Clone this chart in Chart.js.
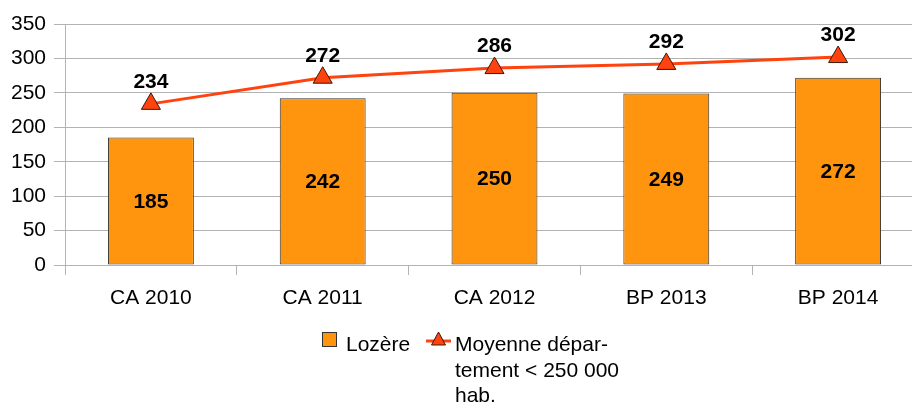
<!DOCTYPE html>
<html>
<head>
<meta charset="utf-8">
<script src="https://cdn.jsdelivr.net/npm/chart.js@4/dist/chart.umd.min.js"></script>
<style>
html,body{margin:0;padding:0;background:#fff;overflow:hidden;}
#wrap{position:relative;width:936px;height:408px;}
</style>
</head>
<body>
<div id="wrap"><canvas id="c" width="936" height="408"></canvas></div>
<script>
const categories = ["CA 2010", "CA 2011", "CA 2012", "BP 2013", "BP 2014"];
const lozere = [185, 242, 250, 249, 272];
const moyenne = [234, 272, 286, 292, 302];
const yTicks = [0, 50, 100, 150, 200, 250, 300, 350];
const legendBar = ["Lozère"];
const legendLine = ["Moyenne dépar-", "tement < 250 000", "hab."];

const FONT = "'Liberation Sans', Arial, sans-serif";
const BAR = "#ff950e";
const LINE = "#ff420e";

const labelsPlugin = {
  id: 'labels',
  afterDatasetsDraw(chart) {
    const ctx = chart.ctx;
    ctx.save();
    ctx.font = "bold 21px " + FONT;
    ctx.fillStyle = "#000";
    ctx.textAlign = "center";
    ctx.textBaseline = "middle";
    const barMeta = chart.getDatasetMeta(1);
    barMeta.data.forEach((el, i) => {
      ctx.fillText(String(lozere[i]), el.x, (el.y + el.base) / 2 + 1);
    });
    const lineMeta = chart.getDatasetMeta(0);
    lineMeta.data.forEach((el, i) => {
      ctx.fillText(String(moyenne[i]), el.x, el.y - 22);
    });
    // legend
    ctx.font = "21px " + FONT;
    ctx.textAlign = "left";
    ctx.textBaseline = "alphabetic";
    ctx.fillStyle = BAR;
    ctx.strokeStyle = "#333";
    ctx.lineWidth = 1;
    ctx.fillRect(322.5, 332.5, 14, 14);
    ctx.strokeRect(322.5, 332.5, 14, 14);
    ctx.fillStyle = "#000";
    ctx.fillText(legendBar[0], 346, 351);
    ctx.strokeStyle = LINE;
    ctx.lineWidth = 3;
    ctx.beginPath();
    ctx.moveTo(426, 341);
    ctx.lineTo(451, 341);
    ctx.stroke();
    ctx.fillStyle = LINE;
    ctx.strokeStyle = "#3a1a0a";
    ctx.lineWidth = 1;
    ctx.beginPath();
    ctx.moveTo(438.5, 332);
    ctx.lineTo(445.5, 345);
    ctx.lineTo(431.5, 345);
    ctx.closePath();
    ctx.fill();
    ctx.stroke();
    ctx.fillStyle = "#000";
    legendLine.forEach((t, i) => ctx.fillText(t, 455, 351 + i * 25.5));
    ctx.restore();
  }
};

new Chart(document.getElementById('c'), {
  data: {
    labels: categories,
    datasets: [
      {
        type: 'line',
        label: 'Moyenne département < 250 000 hab.',
        data: moyenne,
        borderColor: LINE,
        backgroundColor: LINE,
        borderWidth: 3,
        pointStyle: 'triangle',
        pointRadius: 11,
        pointHoverRadius: 11,
        pointBackgroundColor: LINE,
        pointBorderColor: "#3a1a0a",
        pointBorderWidth: 1,
        tension: 0,
        order: 0
      },
      {
        type: 'bar',
        label: 'Lozère',
        data: lozere,
        backgroundColor: BAR,
        borderColor: "#333",
        borderWidth: 1,
        borderSkipped: false,
        categoryPercentage: 1.0,
        barPercentage: 0.5,
        order: 1
      }
    ]
  },
  options: {
    responsive: false,
    animation: false,
    devicePixelRatio: 1,
    layout: { padding: { top: 24, right: 2, left: 0, bottom: 0 } },
    plugins: { legend: { display: false }, tooltip: { enabled: false } },
    scales: {
      x: {
        grid: { display: true, offset: true, drawOnChartArea: false, color: "#b3b3b3", tickLength: 10 },
        border: { display: false },
        ticks: { color: "#000", font: { size: 21, family: FONT }, padding: 11, maxRotation: 0 },
        afterFit(s) { s.height = 143; }
      },
      y: {
        min: 0, max: 350,
        afterBuildTicks(s) { s.ticks = yTicks.map(v => ({ value: v })); },
        grid: { color: "#b3b3b3", tickLength: 11 },
        border: { color: "#b3b3b3" },
        ticks: { color: "#000", font: { size: 21, family: FONT }, padding: 8 },
        afterFit(s) { s.width = 65; }
      }
    }
  },
  plugins: [labelsPlugin]
});
</script>
</body>
</html>
